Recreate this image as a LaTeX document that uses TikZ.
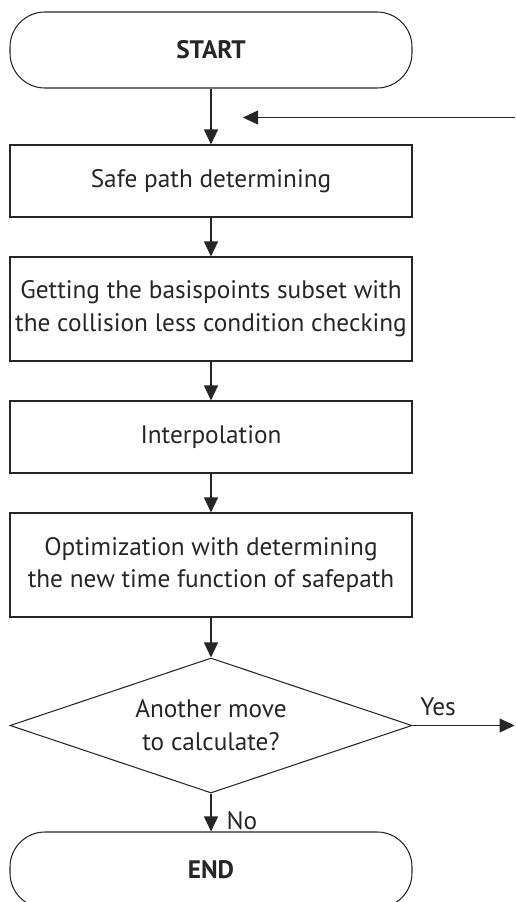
\documentclass[tikz,border=0pt]{standalone}
\usepackage{fontspec}
\setmainfont{PT Sans}
\usetikzlibrary{calc, shapes, arrows.meta}

\begin{document}
\begin{tikzpicture}[font=\fontsize{14.4}{18.7}\selectfont, text=black!85]
    \tikzstyle{terminal} = [rectangle, rounded corners=.7cm, draw=black!85,
        line width=.6pt, minimum width=8.04cm, minimum height=1.52cm,
        font=\fontsize{14.4}{18.7}\selectfont\bfseries]
    \tikzstyle{process} = [rectangle, draw=black!85, line width=.6pt,
        minimum width=8.04cm, align=center, inner sep=0pt]
    \tikzstyle{decision} = [diamond, draw=black!85, line width=.6pt, aspect=3,
        minimum width=8.04cm, minimum height=2.7cm, align=center, inner sep=0pt]
    \tikzstyle{flow} = [-{Triangle[length=.3cm, width=.28cm]}, draw=black!85,
        line width=.6pt]

    % page size, END is cut at the bottom
    \useasboundingbox (0, 0) rectangle (10.3, -18.04);

    % Steps ---------------------------------------------
    \node (start) at (4.22, -1) [terminal] {START};
    \node (path) at ($(start) + (0, -2.62)$) [process, minimum height=1.44cm] {Safe path determining};
    \node (subset) at ($(path) + (0, -2.56)$) [process, minimum height=2.08cm]
        {Getting the basispoints subset with\\the collision less condition checking};
    \node (interp) at ($(subset) + (0, -2.56)$) [process, minimum height=1.44cm] {Interpolation};
    \node (optim) at ($(interp) + (0, -2.56)$) [process, minimum height=2.08cm]
        {Optimization with determining\\the new time function of safepath};
    \node (another) at ($(optim) + (0, -3.21)$) [decision] {Another move\\to calculate?};
    \node (end) at ($(another) + (0, -2.89)$) [terminal] {END};
    % ---------------------------------------------------

    % Arrows down
    \draw [flow] (start) -- (path);
    \draw [flow] (path) -- (subset);
    \draw [flow] (subset) -- (interp);
    \draw [flow] (interp) -- (optim);
    \draw [flow] (optim) -- (another);
    \draw [flow] (another) -- node (no) [right, pos=.72, inner sep=.3cm] {No} (end);

    % Loop back
    \coordinate (yes_end) at ($(another.east) + (2.04, 0)$);
    \draw [flow] (another.east) -- node (yes) [above, pos=.25, inner sep=5pt] {Yes} (yes_end);

    \coordinate (loop_in) at ($(start.south) + (6.08, -.58)$);
    \coordinate (loop_out) at ($(start.south) + (.64, -.58)$);
    \draw [flow] (loop_in) -- (loop_out);
\end{tikzpicture}
\end{document}
